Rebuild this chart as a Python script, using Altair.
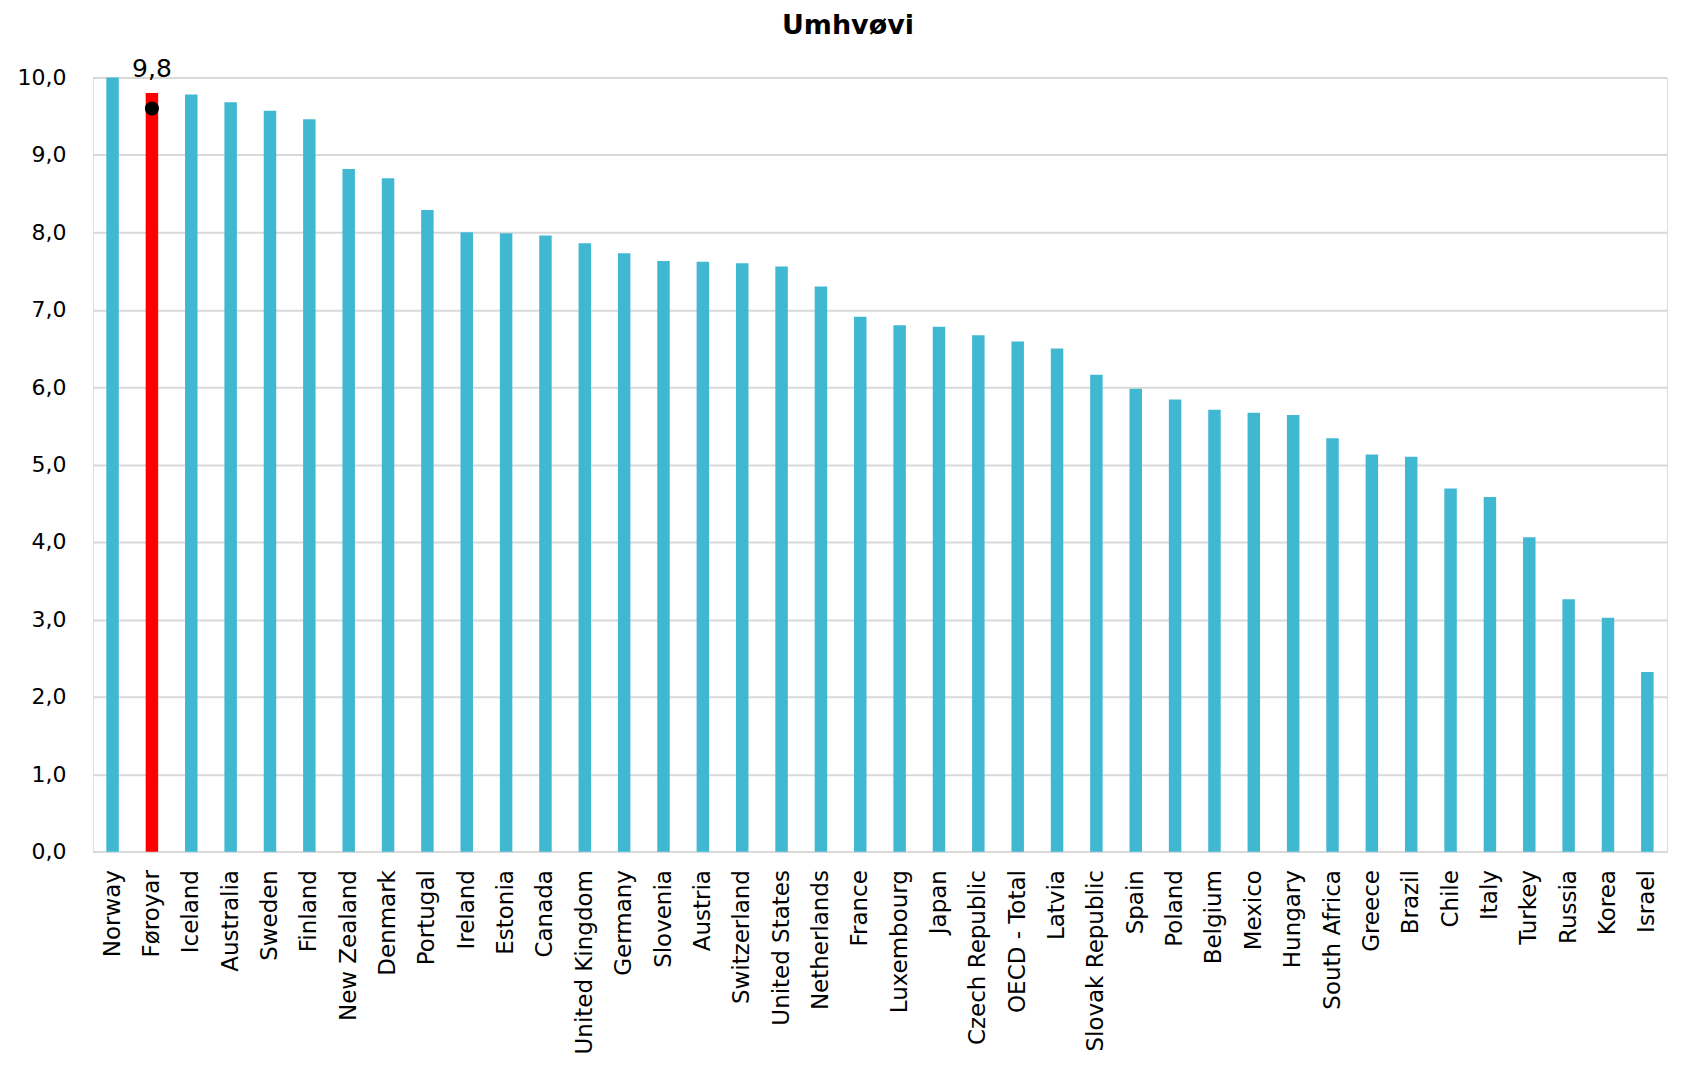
import altair as alt
import pandas as pd

countries = ["Norway", "Føroyar", "Iceland", "Australia", "Sweden", "Finland", "New Zealand",
             "Denmark", "Portugal", "Ireland", "Estonia", "Canada", "United Kingdom", "Germany",
             "Slovenia", "Austria", "Switzerland", "United States", "Netherlands", "France",
             "Luxembourg", "Japan", "Czech Republic", "OECD - Total", "Latvia", "Slovak Republic",
             "Spain", "Poland", "Belgium", "Mexico", "Hungary", "South Africa", "Greece", "Brazil",
             "Chile", "Italy", "Turkey", "Russia", "Korea", "Israel"]
values = [10.0, 9.8, 9.78, 9.68, 9.57, 9.46, 8.82, 8.70, 8.29, 8.00, 7.99, 7.96, 7.86, 7.73,
          7.63, 7.62, 7.60, 7.56, 7.30, 6.91, 6.80, 6.78, 6.67, 6.59, 6.50, 6.16, 5.98, 5.84,
          5.71, 5.67, 5.64, 5.34, 5.13, 5.10, 4.69, 4.58, 4.06, 3.26, 3.02, 2.32]
highlight = "Føroyar"
highlight_label = "9,8"
dot_country = ["Føroyar"]
dot_value = [9.6]

df = pd.DataFrame({"country": countries, "value": values})
df["hl"] = df["country"] == highlight
dot_df = pd.DataFrame({"country": dot_country, "value": dot_value})
lab_df = pd.DataFrame({"country": [highlight], "value": [values[countries.index(highlight)]],
                       "label": [highlight_label]})

FONT = "DejaVu Sans"

x = alt.X("country:N", sort=countries, title=None,
          scale=alt.Scale(paddingInner=0, paddingOuter=0),
          axis=alt.Axis(labelAngle=-90, labelFontSize=23, labelFont=FONT, labelColor="black",
                        ticks=False, labelPadding=18, domainColor="#d9d9d9", domainWidth=2,
                        labelAlign="right", labelBaseline="middle", labelLimit=400))
y = alt.Y("value:Q", title=None, scale=alt.Scale(domain=[0, 10], nice=False),
          axis=alt.Axis(values=list(range(0, 11)), labelExpr="replace(format(datum.value, '.1f'), '.', ',')",
                        labelFontSize=22, labelFont=FONT, labelColor="black", ticks=False,
                        domain=False, gridColor="#d9d9d9", gridWidth=2, labelPadding=27))

bars = alt.Chart(df).mark_bar(size=12.5).encode(
    x=x, y=y,
    color=alt.condition("datum.hl", alt.value("#ff0000"), alt.value("#41b8d2")),
)
dot = alt.Chart(dot_df).mark_point(filled=True, size=200, color="black", opacity=1, shape="circle").encode(
    x=alt.X("country:N", sort=countries), y="value:Q")
lab = alt.Chart(lab_df).mark_text(fontSize=25, font=FONT, color="black", baseline="bottom", dy=-11).encode(
    x=alt.X("country:N", sort=countries), y="value:Q", text="label:N")

chart = alt.layer(bars, dot, lab).properties(
    width=1576, height=775,
    title=alt.TitleParams("Umhvøvi", fontSize=27, font=FONT, fontWeight="bold", color="black",
                          anchor="middle", offset=17, dx=-32),
    autosize=alt.AutoSizeParams(type="none"),
    padding={"left": 85, "top": 69, "right": 10, "bottom": 220},
).configure_view(stroke=None).configure(background="white")

chart.save("out.html", embed_options={"renderer": "svg", "actions": False})
